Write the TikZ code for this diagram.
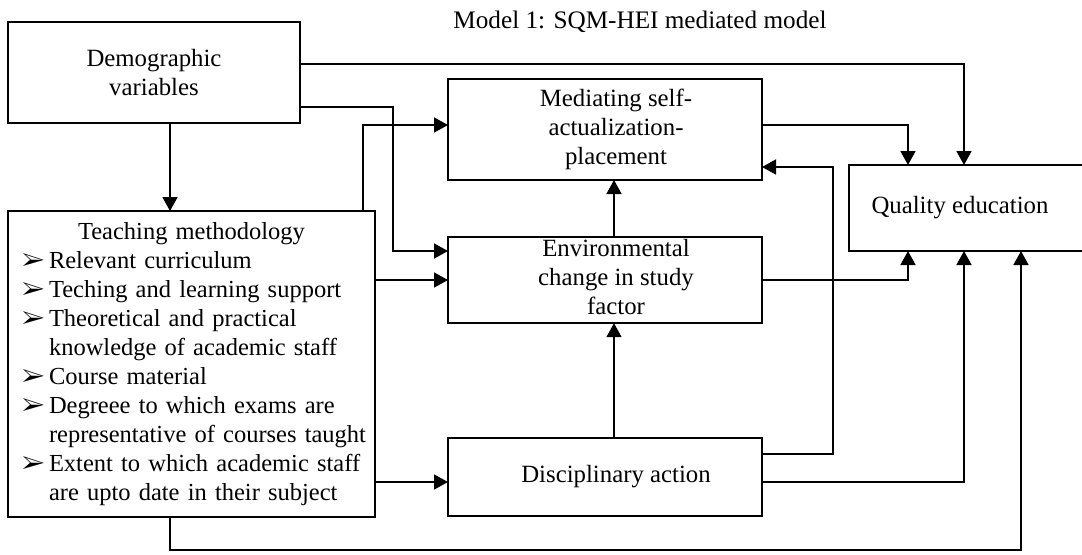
\documentclass[tikz,border=0pt]{standalone}
\usepackage{fontspec}
\setmainfont{Liberation Serif}
\usepackage{pifont}
\usepackage{enumitem}
\usetikzlibrary{arrows.meta}
\newcommand{\boxtext}[1]{\hspace*{11pt}\begin{tabular}{@{}c@{}}#1\end{tabular}}

\begin{document}
\begin{tikzpicture}[x=0.5pt,y=-0.5pt,box/.style={draw,line width=0.8pt,align=center,inner sep=0pt,outer sep=0pt,font=\fontsize{12.4}{14.4}\selectfont},arr/.style={-{Triangle[length=7pt,width=7.5pt]},line width=0.8pt}]
\useasboundingbox (0,0) rectangle (1082,554);
\node[font=\fontsize{12.6}{15}\selectfont] (ttl) at (640,22) {Model 1: SQM-HEI mediated model};
\node[box,minimum width=146pt,minimum height=50.5pt] (dv) at (154,72.5) {Demographic\\variables};
\node[box,minimum width=183.5pt,minimum height=153pt,text width=169.5pt,inner xsep=7pt,font=\fontsize{12.25}{14.5}\selectfont] (tm) at (191.5,364) {Teaching methodology\par\raggedright
\begin{itemize}[nosep,leftmargin=13.5pt,rightmargin=-8pt,labelwidth=13.5pt,labelsep=0pt,align=left,label=\ding{226}]
\item Relevant curriculum
\item Teching and learning support
\item Theoretical and practical\\knowledge of academic staff
\item Course material
\item Degreee to which exams are\\representative of courses taught
\item Extent to which academic staff\\are upto date in their subject
\end{itemize}};
\node[box,minimum width=157pt,minimum height=50.5pt] (ms) at (605,129.5) {\boxtext{Mediating self-\\actualization-\\placement}};
\node[box,minimum width=157pt,minimum height=43pt] (ec) at (605,280) {\boxtext{Environmental\\change in study\\factor}};
\node[box,minimum width=157pt,minimum height=39pt] (da) at (605,477) {\boxtext{Disciplinary action}};
\node[box,minimum width=120.5pt,minimum height=43pt] (qe) at (969.5,208) {Quality education\hspace{9.5pt}};
% straight links
\draw[arr] ([xshift=8pt]dv.south) -- ([xshift=8pt]dv.south |- tm.north);
\foreach \a/\b in {ec/ms,da/ec}{\draw[arr] ([xshift=4.5pt]\a.north) -- ([xshift=4.5pt]\b.south);}
\draw[arr] (tm.east |- ec.west) -- (ec.west);
\path ([yshift=-2.5pt]da.west) coordinate (dain);
\draw[arr] (tm.east |- dain) -- (dain);
% elbow links
\draw[arr] ([yshift=4.25pt]dv.east) -| ([xshift=-2.75pt]qe.north);
\draw[arr] ([yshift=-17.25pt]dv.east) -- ++(93,0) |- ([yshift=14.5pt]ec.west);
\draw[arr] ([xshift=85.75pt]tm.north) |- ([yshift=2.25pt]ms.west);
\draw[arr] ([yshift=2.25pt]ms.east) -| ([xshift=-30.75pt]qe.north);
\draw[arr] (ec.east) -| ([xshift=-30.75pt]qe.south);
\draw[arr] ([yshift=11.5pt]da.east) -- ++(71,0) |- ([yshift=-18.75pt]ms.east);
\draw[arr] ([yshift=-2.5pt]da.east) -| ([xshift=-2.75pt]qe.south);
\draw[arr] ([xshift=-10.75pt]tm.south) -- ++(0,33) -| ([xshift=25.75pt]qe.south);
\end{tikzpicture}
\end{document}
